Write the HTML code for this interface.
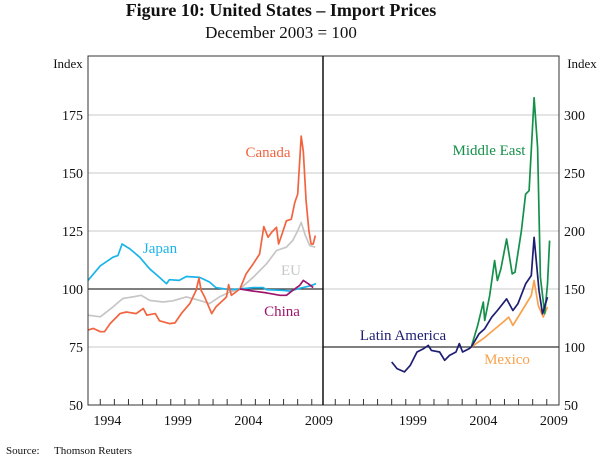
<!DOCTYPE html>
<html><head><meta charset="utf-8"><style>
body{margin:0;background:#fff}
svg{display:block;font-family:"Liberation Serif",serif}
</style></head><body>
<svg id="chart" width="600" height="458" viewBox="0 0 600 458">
<text x="281" y="16" text-anchor="middle" font-size="18" font-weight="bold" fill="#111">Figure 10: United States – Import Prices</text>
<text x="281" y="38" text-anchor="middle" font-size="17" fill="#111">December 2003 = 100</text>
<text x="68" y="68" text-anchor="middle" font-size="13" fill="#111">Index</text>
<text x="582" y="68" text-anchor="middle" font-size="13" fill="#111">Index</text>
<text x="6" y="454" font-size="11" fill="#111">Source:</text>
<text x="54" y="454" font-size="11" fill="#111">Thomson Reuters</text>
<g id="grid"></g><g id="series"></g><g id="frame"></g>
</svg>
<script>
const leftTicks=[50,75,100,125,150,175];
const rightTicks=[50,100,150,200,250,300];
const yearLabels=[1994,1999,2004,2009];
const rightYearLabels=[1999,2004,2009];
const japanYears=[1993.13,1994,1994.9,1995.25,1995.55,1996.1,1996.8,1997.5,1998.2,1998.7,1998.9,1999.6,2000.1,2001.05,2001.75,2002.2,2003.2,2003.9,2004.85,2005.55,2005.8,2007,2007.45,2008.15,2008.9,2009.3];
const japanValues=[103.7,110,113.7,114.4,119.4,117.3,113.7,108.7,105,102.3,104,103.7,105.4,105,103,100.6,99.7,100,100.6,100.6,99.7,99.4,99.1,100.3,101.4,102.3];
const canadaYears=[1993.13,1993.5,1994,1994.3,1994.7,1995.4,1995.85,1996.55,1997.05,1997.3,1997.9,1998.2,1998.9,1999.3,1999.75,2000.35,2000.8,2001,2001.15,2001.4,2001.9,2002.2,2002.7,2002.95,2003.1,2003.3,2003.9,2004.35,2004.85,2005.3,2005.6,2005.9,2006.15,2006.5,2006.65,2006.85,2007.2,2007.55,2007.8,2008,2008.25,2008.4,2008.6,2008.8,2008.95,2009.1,2009.25];
const canadaValues=[82.3,83,81.6,81.6,85.1,89.4,90.1,89.4,91.6,88.7,89.4,86.3,85.1,85.4,89.4,93.7,99.4,104.7,99.4,96.6,89.4,92.3,95.1,96.6,101.9,97.3,100,106.6,110.9,115.1,126.9,122.3,124.4,126.6,119.4,123,129.4,130.1,137.3,140.9,165.9,159.4,138,125.1,119.4,119.4,123];
const euYears=[1993.13,1994,1994.9,1995.6,1996.3,1996.9,1997.5,1998.45,1999.15,2000.1,2001.05,2001.75,2002.45,2003.2,2003.9,2004.85,2005.8,2006.5,2007.2,2007.65,2008,2008.25,2008.55,2008.85,2009.25];
const euValues=[88.7,88,92.3,95.9,96.6,97.3,95.1,94.4,94.9,96.6,95.1,93.7,96.6,98.7,100,105.1,110.9,116.6,118,120.9,125.1,128.7,123,118.7,118];
const chinaYears=[2003.9,2004.85,2005.8,2006.75,2007.2,2007.65,2008.15,2008.4,2008.75,2009.1];
const chinaValues=[100,99.1,98.3,97.3,97.3,99.4,101.6,103.7,102.3,100.6];
const latamYears=[1998.0,1998.38,1998.9,1999.32,1999.8,2000.27,2000.6,2000.82,2001.4,2001.76,2002.1,2002.56,2002.8,2003.03,2003.5,2003.65,2004.2,2004.6,2005.1,2005.5,2006.15,2006.6,2006.95,2007.5,2007.9,2008.1,2008.45,2008.7,2009.05];
const latamValues=[87.1,81.4,78.5,84.2,95.7,98.6,101.4,97.1,95.7,88.5,92.8,95.7,102.9,95.7,98.6,100,111.5,115.8,125.8,131.5,141.5,131.5,137.2,154.4,161.6,194.6,148.7,128.7,143];
const meYears=[2003.65,2004.1,2004.5,2004.6,2004.95,2005.3,2005.5,2005.75,2006.15,2006.55,2006.75,2007.2,2007.5,2007.75,2008.1,2008.35,2008.55,2008.85,2009.05,2009.2];
const meValues=[100,118.6,138.7,122.9,144.4,174.5,157.3,167.3,193.1,163,164.5,200.3,231.8,234.7,314.9,271.9,160.2,128.7,154.4,191.7];
const mexYears=[2003.65,2004.5,2005.2,2005.9,2006.3,2006.6,2007.25,2007.9,2008.1,2008.4,2008.75,2009.05];
const mexValues=[100,107.2,114.3,121.5,125.8,118.6,131.5,144.4,157.3,135.8,125.8,134.4];

const NS='http://www.w3.org/2000/svg';
const L0=88,MID=323,R1=559,TOP=56,BOT=405;
const xL=t=>L0+(t-1993.13)*14.1;
const xR=t=>MID+(t-1993.13)*14.1;
const yL=v=>BOT-(v-50)*(58/25);
const yR=v=>BOT-(v-50)*(58/50);
function mk(tag,attrs,parent){const e=document.createElementNS(NS,tag);for(const k in attrs)e.setAttribute(k,attrs[k]);parent.appendChild(e);return e;}
const grid=document.getElementById('grid'),ser=document.getElementById('series'),frame=document.getElementById('frame');

leftTicks.forEach(v=>{
  if(v>50&&v!==100){const g=mk('line',{x1:L0,x2:MID,y1:yL(v),y2:yL(v),stroke:'#c8c8c8','stroke-width':1},grid);
  
  }
  const t=mk('text',{x:83,y:yL(v)+5,'text-anchor':'end','font-size':14,fill:'#111'},frame);t.textContent=v;
  
  
});
rightTicks.forEach(v=>{
  if(v>50&&v!==100){const g=mk('line',{x1:MID,x2:R1,y1:yR(v),y2:yR(v),stroke:'#c8c8c8','stroke-width':1},grid);
  
  }
  const t=mk('text',{x:564,y:yR(v)+5,'font-size':14,fill:'#111'},frame);t.textContent=v;
  
  
});
let b=mk('line',{x1:L0,x2:MID,y1:yL(100),y2:yL(100),stroke:'#333','stroke-width':1.2},grid);


b=mk('line',{x1:MID,x2:R1,y1:yR(100),y2:yR(100),stroke:'#333','stroke-width':1.2},grid);



function line(xs,vs,xf,yf,color,name){
  const d=xs.map((t,i)=>(i?'L':'M')+xf(t).toFixed(1)+','+yf(vs[i]).toFixed(1)).join('');
  const p=mk('path',{d:d,fill:'none',stroke:color,'stroke-width':1.7,'stroke-linejoin':'round'},ser);
  
  
}
line(euYears,euValues,xL,yL,'#c6c6c6','eu-line');
line(japanYears,japanValues,xL,yL,'#1ab4ea','japan-line');
line(canadaYears,canadaValues,xL,yL,'#f2643f','canada-line');
line(chinaYears,chinaValues,xL,yL,'#9e166c','china-line');
line(mexYears,mexValues,xR,yR,'#f8a24d','mexico-line');
line(meYears,meValues,xR,yR,'#15904a','middle-east-line');
line(latamYears,latamValues,xR,yR,'#1d1d72','latin-america-line');

const labels=[['Canada',268,157,'#f2643f','canada-label'],['Japan',160,253,'#1ab4ea','japan-label'],['EU',291,275,'#c6c6c6','eu-label'],['China',282,316,'#9e166c','china-label'],['Middle East',489,155,'#15904a','middle-east-label'],['Latin America',403,340,'#1d1d72','latin-america-label'],['Mexico',507,364,'#f8a24d','mexico-label']];
labels.forEach(a=>{const t=mk('text',{x:a[1],y:a[2],'text-anchor':'middle','font-size':15,fill:a[3]},ser);t.textContent=a[0];
  
  });

let f=mk('rect',{x:L0,y:TOP,width:R1-L0,height:BOT-TOP,fill:'none',stroke:'#333','stroke-width':1},frame);


f=mk('line',{x1:MID,x2:MID,y1:TOP,y2:BOT,stroke:'#111','stroke-width':1.5},frame);


for(let yr=1994;yr<=2009;yr++){
  [xL(yr),xR(yr)].forEach((x,j)=>{
    if(x>L0+1&&x<R1-1&&Math.abs(x-MID)>1){const tk=mk('line',{x1:x,x2:x,y1:BOT,y2:BOT-6,stroke:'#333','stroke-width':1},frame);
    
    }
  });
}
yearLabels.forEach(yr=>{const t=mk('text',{x:xL(yr+0.5),y:425,'text-anchor':'middle','font-size':14,fill:'#111'},frame);t.textContent=yr;
  
  });
rightYearLabels.forEach(yr=>{const t=mk('text',{x:xR(yr+0.5),y:425,'text-anchor':'middle','font-size':14,fill:'#111'},frame);t.textContent=yr;
  
  });
</script>
</body></html>
